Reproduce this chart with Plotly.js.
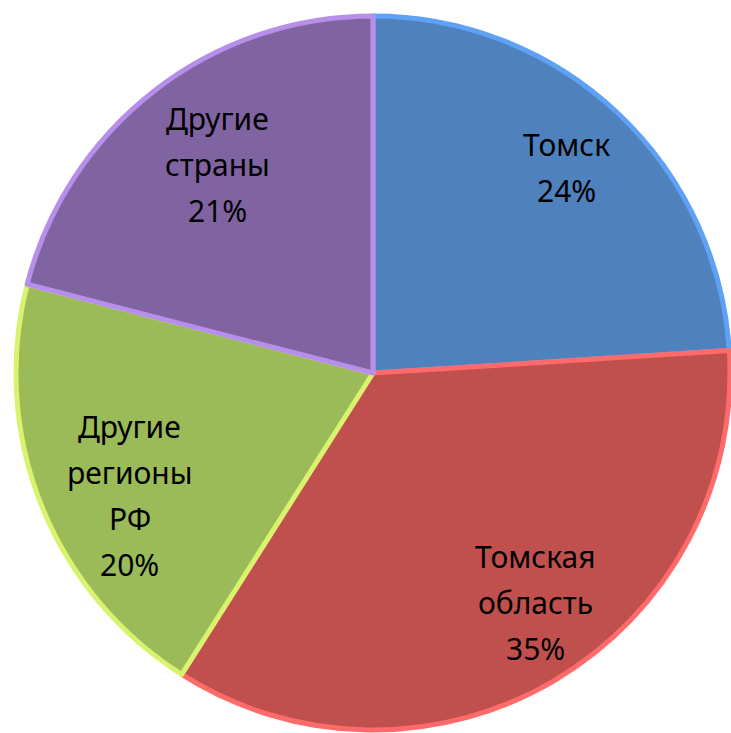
<!DOCTYPE html>
<html>
<head>
<meta charset="utf-8">
<script src="https://cdn.plot.ly/plotly-3.0.1.min.js"></script>
<style>html,body{margin:0;padding:0;background:#fff;}#chart{width:731px;height:733px;}</style>
</head>
<body>
<div id="chart"></div>
<script>
var categories = ["Томск", "Томская область", "Другие регионы РФ", "Другие страны"];
var labelLines = [["Томск"], ["Томская", "область"], ["Другие", "регионы", "РФ"], ["Другие", "страны"]];
var values = [24, 35, 20, 21];
var fillColors = ["#4F81BD", "#C0504D", "#9BBB59", "#8064A2"];
var edgeColors = ["#5FA2F5", "#FF6B6B", "#D9F36E", "#B78FEA"];

// label placement style (angle offset in degrees from slice middle, radius fraction)
var labelAngleOffset = [0, -4.6, -5.1, 1.1];
var labelRadius = [0.79, 0.788, 0.762, 0.727];

var W = 731, H = 733;
var cx = 373, cy = 373, R = 357;  // pie centre and radius in px (from the domain below)
var lineGap = 46, fontSize = 30;
var fontFam = "Noto Sans, DejaVu Sans, sans-serif";

var trace = {
  type: "pie",
  labels: categories,
  values: values,
  sort: false,
  direction: "clockwise",
  rotation: 0,
  marker: {colors: fillColors, line: {color: edgeColors, width: 5}},
  textinfo: "none",
  hoverinfo: "none",
  showlegend: false,
  domain: {x: [(cx - R) / W, (cx + R) / W], y: [(H - cy - R) / H, (H - cy + R) / H]}
};

var total = values.reduce(function (a, b) { return a + b; }, 0);
var annotations = [];
var cum = 0;
values.forEach(function (v, k) {
  var mid = (cum + v / 2) / total * 360 + labelAngleOffset[k];
  cum += v;
  var a = mid * Math.PI / 180;
  var r = labelRadius[k] * R;
  var px = cx + r * Math.sin(a);
  var py = cy - r * Math.cos(a);
  var lines = labelLines[k].concat([Math.round(v / total * 100) + "%"]);
  var n = lines.length;
  lines.forEach(function (t, i) {
    annotations.push({
      xref: "paper", yref: "paper",
      x: px / W, y: (H - py) / H,
      xanchor: "center", yanchor: "middle",
      yshift: -(i - (n - 1) / 2) * lineGap,
      text: t, showarrow: false,
      font: {family: fontFam, size: fontSize, color: "#000000"}
    });
  });
});

var layout = {
  width: W, height: H,
  margin: {l: 0, r: 0, t: 0, b: 0},
  paper_bgcolor: "#ffffff",
  showlegend: false,
  annotations: annotations
};

Plotly.newPlot("chart", [trace], layout, {displayModeBar: false, staticPlot: true});
</script>
</body>
</html>
